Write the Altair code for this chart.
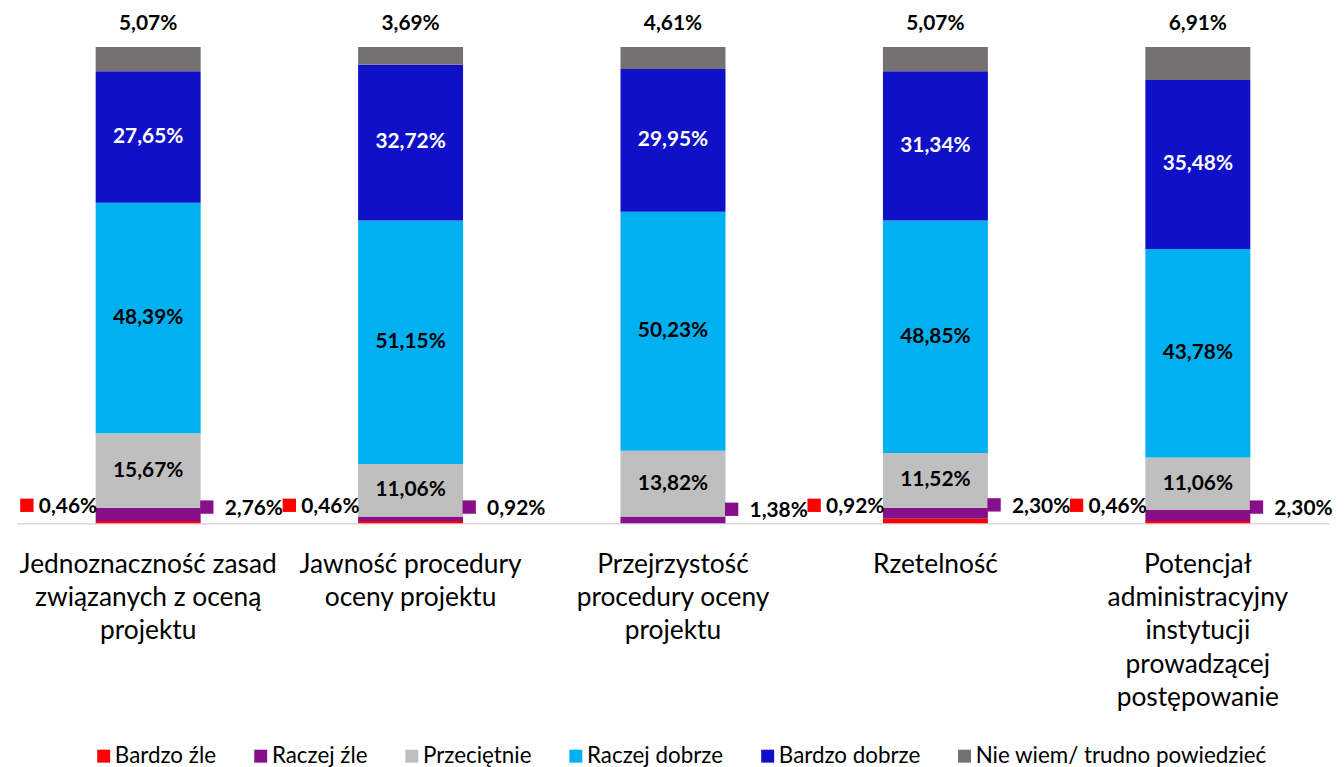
import altair as alt
import pandas as pd

categories = [
    "Jednoznaczność zasad\nzwiązanych z oceną\nprojektu",
    "Jawność procedury\noceny projektu",
    "Przejrzystość\nprocedury oceny\nprojektu",
    "Rzetelność",
    "Potencjał\nadministracyjny\ninstytucji\nprowadzącej\npostępowanie",
]
series = ["Bardzo źle", "Raczej źle", "Przeciętnie", "Raczej dobrze",
          "Bardzo dobrze", "Nie wiem/ trudno powiedzieć"]
colors = ["#FF0000", "#87108A", "#BFBFBF", "#00B0F0", "#1010C8", "#767171"]

bardzo_zle = [0.46, 0.46, 0.00, 0.92, 0.46]
raczej_zle = [2.76, 0.92, 1.38, 2.30, 2.30]
przecietnie = [15.67, 11.06, 13.82, 11.52, 11.06]
raczej_dobrze = [48.39, 51.15, 50.23, 48.85, 43.78]
bardzo_dobrze = [27.65, 32.72, 29.95, 31.34, 35.48]
nie_wiem = [5.07, 3.69, 4.61, 5.07, 6.91]

values = [bardzo_zle, raczej_zle, przecietnie, raczej_dobrze, bardzo_dobrze, nie_wiem]

rows = []
for i, cat in enumerate(categories):
    acc = 0.0
    for s, vals in zip(series, values):
        v = vals[i]
        rows.append({
            "cat": cat, "series": s, "value": v,
            "start": acc, "end": acc + v, "mid": acc + v / 2,
            "label": f"{v:.2f}".replace(".", ",") + "%",
        })
        acc += v
df = pd.DataFrame(rows)

FONT = "Lato"
LBL = 21
xenc = alt.X("cat:N", sort=categories,
             scale=alt.Scale(paddingInner=0.6, paddingOuter=0.3),
             axis=alt.Axis(labels=False, ticks=False, title=None,
                           domainColor="#D9D9D9", domainWidth=1.5, grid=False))
yscale = alt.Scale(domain=[0, 100], nice=False, zero=True)

base = alt.Chart(df)

bars = base.mark_bar().encode(
    x=xenc,
    y=alt.Y("start:Q", scale=yscale, axis=None),
    y2="end:Q",
    color=alt.Color("series:N", scale=alt.Scale(domain=series, range=colors),
                    legend=alt.Legend(orient="none", legendX=76, legendY=702,
                                      direction="horizontal", title=None,
                                      symbolType="square", symbolSize=170,
                                      symbolStrokeWidth=0,
                                      labelFont=FONT, labelFontSize=22.5,
                                      labelLimit=500,
                                      labelColor="black", labelOffset=0,
                                      columnPadding=33, padding=0)),
    order=alt.Order("start:Q"),
)

inner_black = base.transform_filter(
    alt.FieldOneOfPredicate(field="series", oneOf=["Przeciętnie", "Raczej dobrze"])
).mark_text(font=FONT, fontSize=LBL, fontWeight="bold", color="black",
            baseline="middle").encode(x=xenc, y=alt.Y("mid:Q", scale=yscale), text="label:N")

inner_white = base.transform_filter(
    alt.datum.series == "Bardzo dobrze"
).mark_text(font=FONT, fontSize=LBL, fontWeight="bold", color="white",
            baseline="middle").encode(x=xenc, y=alt.Y("mid:Q", scale=yscale), text="label:N")

top_lab = base.transform_filter(
    alt.datum.series == "Nie wiem/ trudno powiedzieć"
).mark_text(font=FONT, fontSize=LBL, fontWeight="bold", color="black",
            baseline="middle", dy=-23).encode(x=xenc, y=alt.Y("end:Q", scale=yscale), text="label:N")

red = base.transform_filter((alt.datum.series == "Bardzo źle") & (alt.datum.value > 0))
red_txt = red.mark_text(font=FONT, fontSize=LBL, fontWeight="bold", color="black",
                        align="left", baseline="middle", dx=-110, dy=-16).encode(
    x=xenc, y=alt.Y("start:Q", scale=yscale), text="label:N")
red_sq = red.mark_square(size=180, color="#FF0000", opacity=1, xOffset=-122, yOffset=-18).encode(
    x=xenc, y=alt.Y("start:Q", scale=yscale))

purple = base.transform_filter(alt.datum.series == "Raczej źle")
pur_txt = purple.mark_text(font=FONT, fontSize=LBL, fontWeight="bold", color="black",
                           align="left", baseline="middle", dx=77, dy=-12).encode(
    x=xenc, y=alt.Y("start:Q", scale=yscale), text="label:N")
pur_sq = purple.mark_square(size=180, color="#87108A", opacity=1, xOffset=59, yOffset=-14).encode(
    x=xenc, y=alt.Y("start:Q", scale=yscale))

cat_df = pd.DataFrame({"cat": categories})
cat_lab = alt.Chart(cat_df).mark_text(
    font=FONT, fontSize=26.5, color="black", baseline="top", align="center",
    lineBreak="\n", lineHeight=33.5
).encode(x=xenc, y=alt.value(508), text="cat:N")

chart = alt.layer(bars, inner_black, inner_white, top_lab, red_sq, red_txt,
                  pur_sq, pur_txt, cat_lab).properties(
    width=1320, height=479,
    padding={"left": 9, "top": 37, "right": 7, "bottom": 245},
    autosize=alt.AutoSizeParams(type="none"),
).configure_view(stroke=None)

chart.save("out.html", embed_options={"renderer": "svg", "actions": False})
